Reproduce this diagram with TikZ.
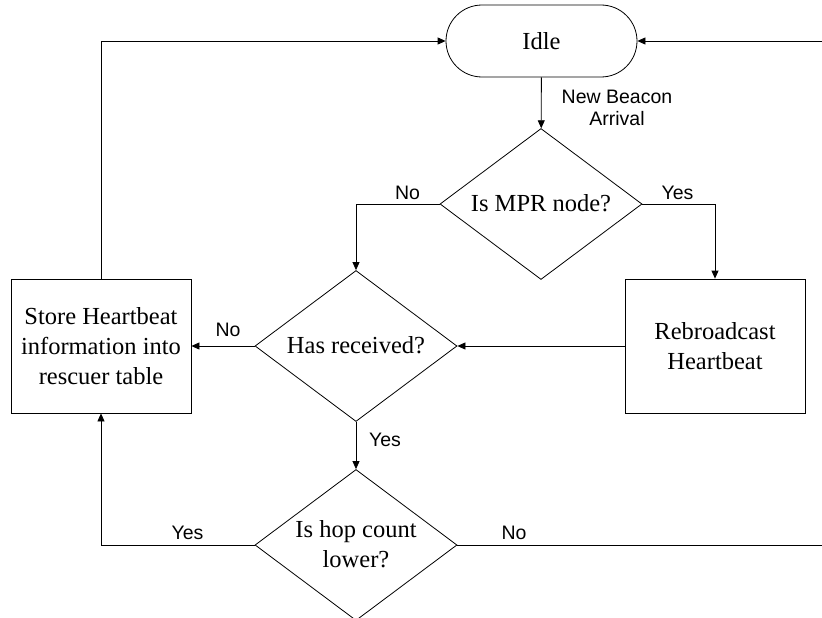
\documentclass[tikz,border=0pt]{standalone}
\usepackage{fontspec}
\setmainfont{Liberation Serif}
\newfontfamily\lblfont{Liberation Sans}
\usetikzlibrary{shapes.geometric,shapes.misc,arrows.meta}
\newcommand{\ztext}[1]{\makebox[0pt]{\raisebox{-0.33em}[0pt][0pt]{\begin{tabular}{@{}c@{}}#1\end{tabular}}}}
\tikzset{
  flow/.style={draw=black, line width=0.8pt},
  term/.style={flow, rounded rectangle, minimum width=191pt, minimum height=72pt, inner sep=0pt,
    font=\fontsize{24.5}{30}\selectfont},
  procbox/.style={flow, rectangle, minimum width=180pt, minimum height=134pt, inner sep=0pt,
    align=center, font=\fontsize{24.5}{30}\selectfont},
  decision/.style={flow, diamond, minimum width=202pt, minimum height=151pt, inner sep=0pt,
    font=\fontsize{24.5}{30}\selectfont},
  lbl/.style={font=\lblfont\fontsize{19.5}{22}\selectfont, inner sep=0pt, align=center},
  arr/.style={draw=black, line width=0.8pt, -{Triangle[length=8pt,width=7pt]}},
  conn/.style={draw=black, line width=0.8pt}
}
\begin{document}
\begin{tikzpicture}[x=1pt,y=-1pt]
\useasboundingbox (0,0) rectangle (822,618);
\node[term] (idle) at (541.5,41) {Idle};
\node[decision] (d1) at (541,204) {\ztext{Is MPR node?}};
\node[decision] (d2) at (356,346) {\ztext{Has received?}};
\node[decision] (d3) at (356,545) {\ztext{Is hop count\\lower?}};
\node[procbox] (store) at (101,346) {Store Heartbeat\\information into\\rescuer table};
\node[procbox] (reb) at (715,346) {Rebroadcast\\Heartbeat};
\coordinate (rc) at (824,545);

\draw[arr] (idle) -- (d1);
\draw[arr] (d1.west) -| (d2.north);
\draw[arr] (d1.east) -| (reb.north);
\draw[arr] (reb.west) -- (d2.east);
\draw[arr] (d2.west) -- (store.east);
\draw[arr] (d2.south) -- (d3.north);
\draw[arr] (d3.west) -| (store.south);
\draw[arr] (store.north) |- (idle.west);
\draw[arr] (d3.east) -- (rc) |- (idle.east);

\node[lbl] (lnb) at (617,108) {New Beacon\\Arrival};
\node[lbl] (l1no) at (407.5,193) {No};
\node[lbl] (l1yes) at (677.5,193) {Yes};
\node[lbl] (l2no) at (228,330) {No};
\node[lbl] (l2yes) at (385,440) {Yes};
\node[lbl] (l3yes) at (187.5,533) {Yes};
\node[lbl] (l3no) at (514,533) {No};
\end{tikzpicture}
\end{document}
